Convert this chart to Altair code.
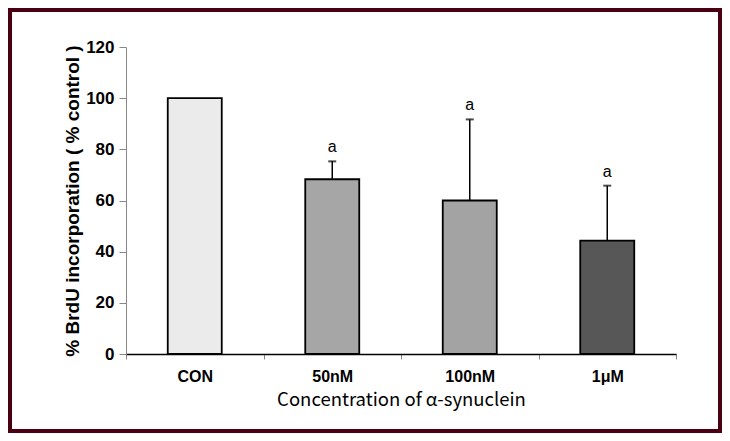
import altair as alt
import pandas as pd

categories = ["CON", "50nM", "100nM", "1μM"]
values = [100, 68.3, 60.0, 44.3]
errors = [0, 7.0, 31.7, 21.5]
letters = ["", "a", "a", "a"]

bar_colors = ["#ebebeb", "#a6a6a6", "#a3a3a3", "#575757"]

df = pd.DataFrame({
    "cat": categories,
    "value": values,
    "upper": [v + e for v, e in zip(values, errors)],
    "letter": letters,
})
df_err = df[df["letter"] != ""]

W, H = 550, 307
PAD = {"left": 118, "top": 39, "right": 46, "bottom": 79}

x = alt.X("cat:N", sort=categories,
          scale=alt.Scale(paddingInner=0, paddingOuter=0),
          axis=alt.Axis(title="Concentration of α-synuclein", labelAngle=0,
                        tickBand="extent", tickSize=5, tickColor="#888888",
                        domainColor="#000000", domainWidth=1.5,
                        labelFont="Liberation Sans", labelFontWeight="bold",
                        labelFontSize=16, labelColor="#000000", labelPadding=9,
                        titleFont="Noto Sans CJK KR", titleFontWeight="normal",
                        titleFontSize=18.5, titleColor="#000000", titlePadding=6))
y_scale = alt.Scale(domain=[0, 120])
y_axis = alt.Axis(title="% BrdU incorporation  ( % control )",
                  values=[0, 20, 40, 60, 80, 100, 120], grid=False,
                  tickSize=7, tickColor="#888888", domainColor="#888888",
                  labelFont="Liberation Sans", labelFontWeight="bold",
                  labelFontSize=17, labelColor="#000000", labelPadding=5,
                  titleFont="Liberation Sans", titleFontWeight="bold",
                  titleFontSize=19, titleColor="#000000", titlePadding=3)

base = alt.Chart(df)

bars = base.mark_bar(size=54, stroke="#000000", strokeWidth=1.8).encode(
    x=x,
    y=alt.Y("value:Q", scale=y_scale, axis=y_axis),
    fill=alt.Fill("cat:N", scale=alt.Scale(domain=categories, range=bar_colors), legend=None),
)

err_base = alt.Chart(df_err)
rules = err_base.mark_rule(color="#000000", strokeWidth=1.5).encode(
    x=alt.X("cat:N", sort=categories),
    y=alt.Y("value:Q"),
    y2="upper:Q",
)
caps = err_base.mark_tick(color="#000000", size=8, thickness=2).encode(
    x=alt.X("cat:N", sort=categories),
    y=alt.Y("upper:Q"),
)
texts = err_base.mark_text(font="Liberation Sans", fontSize=16, dy=-14,
                           color="#000000").encode(
    x=alt.X("cat:N", sort=categories),
    y=alt.Y("upper:Q"),
    text="letter:N",
)

frame = alt.Chart(pd.DataFrame({"f": [0]})).mark_rect(
    fill=None, stroke="#4a0010", strokeWidth=4
).encode(
    x=alt.value(-PAD["left"] + 2), x2=alt.value(W + PAD["right"] - 2),
    y=alt.value(-PAD["top"] + 2), y2=alt.value(H + PAD["bottom"] - 2),
)

chart = alt.layer(bars, rules, caps, texts, frame).properties(
    width=W, height=H, padding=PAD,
    autosize=alt.AutoSizeParams(type="none"),
    background="#ffffff",
).configure_view(stroke=None)

chart.save("out.html", embed_options={"renderer": "svg", "actions": False})
